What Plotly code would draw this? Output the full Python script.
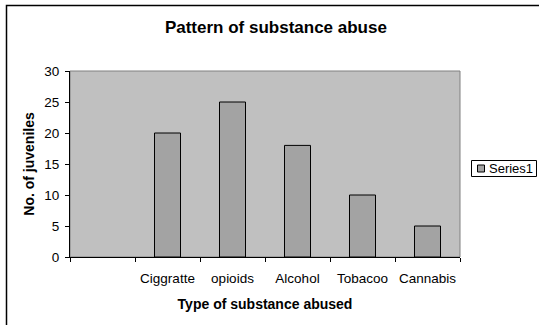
import plotly.graph_objects as go

categories = [" ", "Ciggratte", "opioids", "Alcohol", "Tobacoo", "Cannabis"]
values = [None, 20, 25, 18, 10, 5]
series_name = "Series1"
title_text = "Pattern of substance abuse"
x_title = "Type of substance abused"
y_title = "No. of juveniles"

W, H = 539, 325
L, R, T, B = 70, 79, 71, 68
pw, ph = W - L - R, H - T - B

def px_x(x):
    return (x - L) / pw

def px_y(y):
    return (H - B - y) / ph

font = "Liberation Sans, Arial, sans-serif"
bar_color = "#A3A3A3"

fig = go.Figure()
fig.add_trace(go.Bar(
    x=categories, y=values, name=series_name,
    width=0.4,
    marker=dict(color=bar_color, line=dict(color="black", width=1)),
    showlegend=False,
))

shapes = [
    # outer chart border (right/bottom fall outside the picture)
    dict(type="rect", xref="paper", yref="paper",
         x0=px_x(6.5), x1=px_x(560), y0=px_y(340), y1=px_y(5.5),
         line=dict(color="black", width=1.5), fillcolor="rgba(0,0,0,0)", layer="below"),
    # plot area border (gray)
    dict(type="rect", xref="paper", yref="paper", x0=0, x1=1, y0=0, y1=1,
         line=dict(color="#808080", width=1), fillcolor="rgba(0,0,0,0)", layer="below"),
    # legend box
    dict(type="rect", xref="paper", yref="paper",
         x0=px_x(471.5), x1=px_x(536.5), y0=px_y(176.5), y1=px_y(160.5),
         line=dict(color="black", width=1), fillcolor="white"),
    # legend swatch
    dict(type="rect", xref="paper", yref="paper",
         x0=px_x(477.5), x1=px_x(484.5), y0=px_y(172), y1=px_y(165),
         line=dict(color="black", width=1), fillcolor=bar_color),
]

annotations = [
    dict(text=series_name, xref="paper", yref="paper", x=px_x(487), y=px_y(168.5),
         xanchor="left", yanchor="middle", showarrow=False,
         font=dict(family=font, size=13, color="black")),
]

fig.update_layout(
    width=W, height=H,
    margin=dict(l=L, r=R, t=T, b=B, autoexpand=False),
    paper_bgcolor="white",
    plot_bgcolor="#C0C0C0",
    title=dict(text="<b>" + title_text + "</b>", xref="container", x=275.9 / W,
               xanchor="center", yref="container", y=1 - 27.5 / H, yanchor="middle",
               font=dict(family=font, size=17, color="black")),
    font=dict(family=font, size=13.5, color="black"),
    shapes=shapes,
    annotations=annotations,
    bargap=0.6,
)

fig.update_xaxes(
    type="category", categoryorder="array", categoryarray=categories,
    range=[-0.5, len(categories) - 0.5],
    tickson="boundaries", ticks="outside", ticklen=4, tickcolor="black",
    ticklabelstandoff=9, tickangle=0, automargin=False,
    showline=True, linecolor="black", linewidth=1,
    showgrid=False, zeroline=False,
    tickfont=dict(family=font, size=13.5, color="black"),
    title=dict(text="<b>" + x_title + "</b>", standoff=13,
               font=dict(family=font, size=14, color="black")),
)
fig.update_yaxes(
    range=[0, 30], dtick=5, ticks="outside", ticklen=4, tickcolor="black",
    ticklabelstandoff=3, automargin=False,
    showline=True, linecolor="black", linewidth=1,
    showgrid=False, zeroline=False,
    tickfont=dict(family=font, size=13.5, color="black"),
    title=dict(text="<b>" + y_title + "</b>", standoff=6,
               font=dict(family=font, size=14, color="black")),
)

fig.write_html("out.html")
